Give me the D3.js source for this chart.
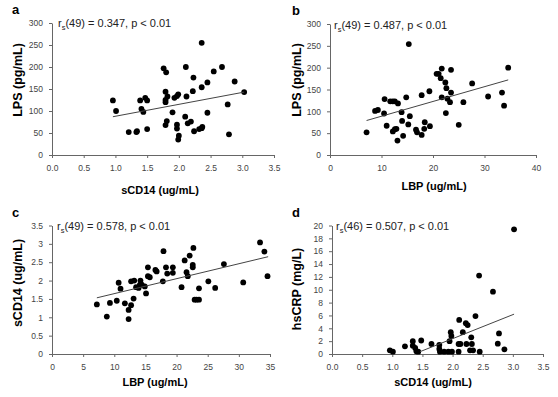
<!DOCTYPE html>
<html>
<head>
<meta charset="utf-8">
<script src="https://cdn.jsdelivr.net/npm/d3@7"></script>
<style>
  body { margin: 0; background: #fff; }
  svg text { font-family: Arial, "Liberation Sans", sans-serif; }
  .tick text { fill: #444; font-size: 8.5px; }
  .domain, .tick line { stroke: #666; }
</style>
</head>
<body>
<div id="chart"></div>
<script>
// panel a : sCD14 vs LPS
const aX = [0.96,1.01,1.21,1.33,1.34,1.39,1.41,1.44,1.47,1.50,1.50,1.76,1.80,1.79,1.79,1.79,1.82,1.81,1.79,1.90,1.93,1.97,1.99,1.97,1.97,2.00,1.99,2.11,2.12,2.10,2.14,2.19,2.23,2.22,2.24,2.32,2.36,2.37,2.36,2.36,2.45,2.45,2.55,2.68,2.77,2.79,2.88,3.03]
const aY = [124,100,52,52,54,124,105,98,130,124,59,197,188,144,125,120,133,77,68,97,130,134,138,69,60,44,35,200,133,87,72,76,176,145,54,59,61,64,154,255,165,96,190,200,115,47,167,143]
const aTrend = [[0.96,87],[3.03,143]]

// panel b : LBP vs LPS
const bX = [7.1,8.75,9.3,10.6,10.5,11.0,11.7,12.2,12.6,12.2,12.6,12.9,13.1,13.2,13.9,14.0,14.2,14.8,15.2,15.5,15.3,16.7,16.9,17.8,17.8,18.4,18.3,19.3,19.4,20.7,21.1,21.5,21.7,21.7,22.4,22.6,22.5,22.8,23.3,23.5,23.5,25.0,25.9,27.6,30.7,33.4,33.8,34.6]
const bY = [52,101,103,128,95,67,123,123,123,54,59,60,33,118,98,78,44,132,70,89,254,58,52,137,46,75,60,146,66,186,186,176,198,132,166,153,96,129,121,195,143,69,121,164,134,143,113,200]
const bTrend = [[7.1,79],[34.6,172]]

// panel c : LBP vs sCD14
const cX = [7.2,8.8,9.3,10.4,10.7,11.0,11.7,12.3,12.3,12.7,12.7,13.1,13.2,13.5,13.9,14.2,14.1,14.4,14.9,15.1,15.4,15.4,15.7,16.6,16.8,17.8,17.9,18.3,18.5,19.4,19.4,20.8,21.3,21.6,21.8,22.1,22.7,22.6,22.6,22.9,23.2,23.6,23.6,25.1,26.2,27.6,30.7,33.4,34.1,34.6]
const cY = [1.35,1.02,1.39,1.45,1.94,1.78,1.38,1.2,0.95,1.33,1.98,1.51,2.0,1.82,1.8,2.0,1.88,1.89,1.84,1.65,2.36,2.12,2.09,2.29,2.25,1.98,2.8,2.36,2.19,2.36,2.21,1.82,2.55,2.23,2.12,2.68,2.89,2.43,2.36,1.48,1.48,1.48,1.79,1.98,1.8,2.45,1.95,3.04,2.79,2.12]
const cTrend = [[7.2,1.53],[34.7,2.65]]

// panel d : sCD14 vs hsCRP
const dX = [0.96,1.01,1.21,1.34,1.34,1.38,1.40,1.43,1.48,1.65,1.78,1.78,1.79,1.86,1.93,1.95,1.97,1.98,1.99,2.11,2.10,2.13,2.10,2.17,2.22,2.25,2.23,2.31,2.32,2.29,2.34,2.44,2.45,2.38,2.67,2.75,2.77,2.86,3.02]
const dY = [0.57,0.36,1.2,2.0,1.3,0.94,0.42,0.36,2.1,1.56,1.4,0.78,0.36,0.36,0.36,2.0,3.4,2.8,0.36,5.3,1.56,1.56,0.36,3.4,4.8,4.5,1.56,2.6,1.56,0.57,0.57,12.2,0.36,5.9,9.7,1.6,3.2,0.73,19.4]
const dTrend = [[1.46,0.36],[3.02,6.2]]

const titles = ['a','b','c','d']
const stats = [['49','0.347'],['49','0.487'],['49','0.578'],['46','0.507']]
const xLabels = ['sCD14 (ug/mL)','LBP (ug/mL)','LBP (ug/mL)','sCD14 (ug/mL)']
const yLabels = ['LPS (pg/mL)','LPS (pg/mL)','sCD14 (ug/mL)','hsCRP (mg/L)']
const xTicks = [d3.range(0,3.51,0.5), [0,10,20,30,40], d3.range(0,36,5), d3.range(0,3.51,0.5)]
const yTicks = [d3.range(0,301,50), d3.range(0,301,50), d3.range(0,3.51,0.5), d3.range(0,21,2)]

const W = 558, H = 397
const svg = d3.select('#chart').append('svg').attr('width',W).attr('height',H)

// layout of each panel (pixel frame)
const panels = [
  {x:aX, y:aY, trend:aTrend, xr:[52,274], yr:[155,23], xd:[0,3.5], yd:[0,300], xf:d3.format('.1f'), yf:d3.format('d'),
   letter:[12,14], stat:[58,27], xl:[160,194], yl:[22,80]},
  {x:bX, y:bY, trend:bTrend, xr:[330,536], yr:[155,24], xd:[0,40], yd:[0,300], xf:d3.format('d'), yf:d3.format('d'),
   letter:[292,15], stat:[334,29], xl:[434,190], yl:[301,80]},
  {x:cX, y:cY, trend:cTrend, xr:[52,270], yr:[354,225.5], xd:[0,35], yd:[0,3.5], xf:d3.format('d'), yf:d=>String(d),
   letter:[12,217], stat:[57,230], xl:[155,386], yl:[22,283]},
  {x:dX, y:dY, trend:dTrend, xr:[332,543], yr:[354,225.5], xd:[0,3.5], yd:[0,20], xf:d3.format('.1f'), yf:d3.format('d'),
   letter:[292,217], stat:[336,230], xl:[433,386], yl:[301,289]}
]

panels.forEach((p,i)=>{
  const xScale=d3.scaleLinear().domain(p.xd).range(p.xr)
  const yScale=d3.scaleLinear().domain(p.yd).range(p.yr)
  const g=svg.append('g')

  g.append('g')
    .attr('transform',`translate(0,${p.yr[0]})`)
    .call(d3.axisBottom(xScale).tickValues(xTicks[i]).tickFormat(p.xf).tickSize(3).tickSizeOuter(0).tickPadding(7))
  g.append('g')
    .attr('transform',`translate(${p.xr[0]},0)`)
    .call(d3.axisLeft(yScale).tickValues(yTicks[i]).tickFormat(p.yf).tickSize(3).tickSizeOuter(0).tickPadding(6))

  const pts=p.x.map((v,k)=>[v,p.y[k]])
  g.selectAll('circle').data(pts).join('circle')
    .attr('cx',d=>xScale(d[0]))
    .attr('cy',d=>yScale(d[1]))
    .attr('r',2.9)
    .attr('fill','#000')

  g.append('path')
    .datum(p.trend)
    .attr('d',d3.line().x(d=>xScale(d[0])).y(d=>yScale(d[1])))
    .attr('stroke','#444')
    .attr('stroke-width',1)
    .attr('fill','none')

  g.append('text')
    .attr('x',p.letter[0]).attr('y',p.letter[1])
    .attr('font-size',13).attr('font-weight','bold')
    .text(titles[i])

  const st=g.append('text')
    .attr('x',p.stat[0]).attr('y',p.stat[1])
    .attr('font-size',11).attr('fill','#222')
  st.append('tspan').text('r')
  st.append('tspan').attr('font-size',7.5).attr('dy',3).text('s')
  st.append('tspan').attr('dy',-3).text(`(${stats[i][0]}) = ${stats[i][1]}, p < 0.01`)

  g.append('text')
    .attr('x',p.xl[0]).attr('y',p.xl[1])
    .attr('text-anchor','middle').attr('font-size',11).attr('font-weight','bold')
    .text(xLabels[i])

  g.append('text')
    .attr('transform',`translate(${p.yl[0]},${p.yl[1]}) rotate(-90)`)
    .attr('text-anchor','middle').attr('font-size',12.5).attr('font-weight','bold')
    .text(yLabels[i])
})
</script>
</body>
</html>
